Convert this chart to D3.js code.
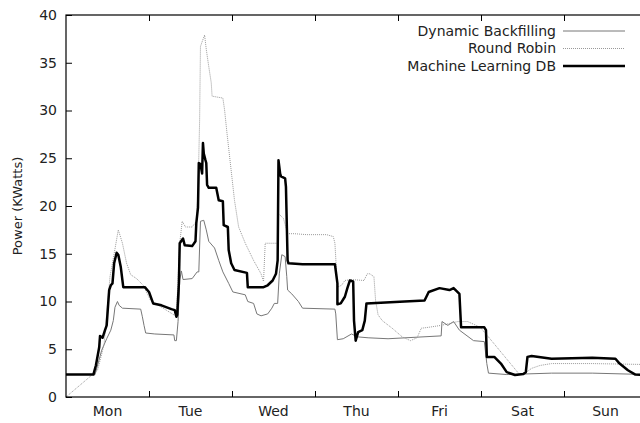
<!DOCTYPE html>
<html>
<head>
<meta charset="utf-8">
<script src="https://cdn.jsdelivr.net/npm/d3@7"></script>
<style>
  body { margin: 0; background: #fff; }
  text { font-family: "DejaVu Sans", sans-serif; fill: #222; }
</style>
</head>
<body>
<div class="myChart"></div>
<script>
var svgWidth = 640;
var svgHeight = 423;

var chartMargin = { top: 15, right: -7, bottom: 26, left: 66 };
var chartWidth = svgWidth - chartMargin.left - chartMargin.right;
var chartHeight = svgHeight - chartMargin.top - chartMargin.bottom;

// x values are days since Monday 00:00, y values in KWatts
var dayLabels = ["Mon", "Tue", "Wed", "Thu", "Fri", "Sat", "Sun"];
var yTicks = [0, 5, 10, 15, 20, 25, 30, 35, 40];

var dbDays = [0, 0.35, 0.43, 0.49, 0.54, 0.57, 0.59, 0.62, 0.64, 0.68, 0.90, 0.92, 0.94, 0.96, 1.07, 1.30, 1.31, 1.33,
  1.35, 1.37, 1.39, 1.41, 1.52, 1.58, 1.60, 1.62, 1.66, 1.69, 1.72, 1.79, 1.84, 1.89, 1.96, 2.01, 2.16, 2.19, 2.26,
  2.30, 2.35, 2.43, 2.48, 2.51, 2.55, 2.57, 2.60, 2.64, 2.66, 2.67, 2.72, 2.80, 2.85, 3.24, 3.25, 3.27, 3.34, 3.44,
  3.51, 3.64, 3.88, 4.52, 4.53, 4.60, 4.67, 4.74, 4.91, 5.04, 5.07, 5.09, 5.31, 5.85, 6.34, 7.0];
var dbPower = [2.35, 2.35, 4.9, 6.1, 7.0, 8.0, 9.4, 10.0, 9.6, 9.3, 9.2, 8.4, 7.5, 6.7, 6.6, 6.5, 5.9, 5.9,
  7.9, 12.2, 13.2, 12.3, 12.4, 13.1, 13.1, 18.4, 18.5, 17.5, 16.3, 15.6, 14.3, 13.1, 11.9, 11.0, 10.7, 10.0, 9.8,
  8.7, 8.5, 8.7, 9.3, 9.8, 9.8, 12.9, 14.9, 14.7, 12.6, 11.2, 10.8, 10.0, 9.3, 9.2, 8.7, 6.0, 6.1, 6.6,
  6.3, 6.2, 6.1, 6.4, 7.9, 7.5, 7.9, 7.0, 5.9, 5.8, 3.5, 2.5, 2.35, 2.5, 2.5, 2.35];

var rrDays = [0, 0.38, 0.43, 0.46, 0.49, 0.53, 0.58, 0.63, 0.68, 0.73, 0.78, 0.85, 0.93, 1.02, 1.17, 1.30, 1.33,
  1.37, 1.40, 1.44, 1.52, 1.57, 1.59, 1.61, 1.62, 1.64, 1.67, 1.69, 1.72, 1.75, 1.76, 1.89, 1.91, 1.94, 2.03, 2.08,
  2.16, 2.26, 2.35, 2.38, 2.40, 2.55, 2.56, 2.62, 2.67, 2.75, 2.90, 3.14, 3.22, 3.24, 3.27, 3.32, 3.36, 3.44, 3.59,
  3.63, 3.66, 3.71, 3.73, 3.76, 3.81, 3.93, 4.05, 4.15, 4.23, 4.28, 4.37, 4.52, 4.62, 4.72, 4.84, 4.99, 5.06, 5.26,
  5.46, 5.53, 5.61, 5.71, 5.85, 6.34, 7.0];
var rrPower = [0, 2.8, 4.5, 5.6, 8.7, 12.6, 15.0, 17.5, 16.1, 14.0, 12.8, 12.4, 11.7, 10.1, 9.3, 8.6, 8.4,
  16.1, 18.4, 17.8, 17.8, 18.4, 21.3, 29.0, 36.7, 37.2, 37.9, 36.4, 34.6, 32.9, 31.5, 31.3, 30.1, 27.6, 20.6, 17.8,
  16.1, 14.3, 12.9, 12.1, 16.1, 16.1, 19.2, 18.7, 17.1, 17.1, 17.0, 17.0, 16.8, 16.1, 11.5, 11.7, 12.2, 12.3, 12.2,
  12.9, 12.9, 12.6, 10.1, 8.6, 8.0, 7.2, 6.3, 5.9, 6.2, 7.2, 7.3, 7.5, 7.7, 7.9, 7.9, 7.3, 6.6, 4.5,
  2.4, 2.5, 3.0, 3.3, 3.5, 3.5, 3.4];

var mlDays = [0, 0.33, 0.36, 0.40, 0.41, 0.44, 0.47, 0.49, 0.52, 0.54, 0.56, 0.58, 0.61, 0.63, 0.66, 0.69, 0.95,
  1.00, 1.05, 1.15, 1.27, 1.31, 1.33, 1.34, 1.36, 1.37, 1.41, 1.43, 1.52, 1.56, 1.57, 1.59, 1.60, 1.62, 1.64, 1.65,
  1.66, 1.68, 1.69, 1.70, 1.72, 1.81, 1.84, 1.89, 1.90, 1.95, 1.96, 1.99, 2.03, 2.18, 2.19, 2.38, 2.43, 2.49, 2.53,
  2.55, 2.56, 2.58, 2.59, 2.64, 2.65, 2.67, 2.68, 2.85, 2.95, 3.24, 3.27, 3.27, 3.31, 3.36, 3.39, 3.42, 3.46, 3.47,
  3.49, 3.52, 3.57, 3.60, 3.62, 4.08, 4.32, 4.37, 4.50, 4.62, 4.67, 4.74, 4.76, 5.04, 5.06, 5.07, 5.16, 5.24, 5.31,
  5.41, 5.51, 5.54, 5.56, 5.61, 5.85, 6.34, 6.62, 6.67, 6.77, 6.86, 7.0];
var mlPower = [2.35, 2.35, 3.3, 5.2, 6.4, 6.2, 7.0, 7.5, 11.2, 11.7, 11.9, 14.0, 15.1, 14.9, 13.6, 11.5, 11.5,
  11.0, 9.8, 9.6, 9.2, 9.1, 8.4, 8.6, 11.9, 16.1, 16.6, 15.9, 15.8, 16.3, 18.2, 19.8, 24.5, 24.4, 23.4, 26.6,
  25.5, 24.8, 24.5, 22.2, 21.9, 21.9, 20.6, 20.5, 18.0, 17.8, 15.4, 14.0, 13.3, 13.0, 11.5, 11.5, 11.7, 12.2, 12.9,
  14.3, 24.8, 23.4, 23.1, 22.9, 22.0, 14.3, 14.0, 13.9, 13.9, 13.9, 11.9, 9.7, 9.8, 10.5, 11.4, 12.2, 12.1, 8.0,
  5.9, 6.8, 7.0, 8.0, 9.8, 10.0, 10.1, 11.0, 11.4, 11.2, 11.4, 10.8, 7.3, 7.3, 7.0, 4.2, 4.2, 3.5, 2.6,
  2.3, 2.4, 2.6, 4.2, 4.3, 4.0, 4.1, 4.0, 3.5, 2.8, 2.35, 2.3];

var series = [
  { name: "Dynamic Backfilling", days: dbDays, power: dbPower },
  { name: "Round Robin", days: rrDays, power: rrPower },
  { name: "Machine Learning DB", days: mlDays, power: mlPower }
];
var seriesStyle = [
  { stroke: "#777", width: 1, dash: null },
  { stroke: "#999", width: 1, dash: "1,1" },
  { stroke: "#000", width: 2.5, dash: null }
];

var svg = d3.select(".myChart")
  .append("svg")
  .attr("width", svgWidth)
  .attr("height", svgHeight)
  .append("g")
  .attr("transform", "translate(" + chartMargin.left + "," + chartMargin.top + ")");

var xLinearScale = d3.scaleLinear().domain([0, 7]).range([0, chartWidth]);
var yLinearScale = d3.scaleLinear().domain([0, 40]).range([chartHeight, 0]);

// day boundary ticks, labels in the middle of each day
var bottomAxis = d3.axisBottom(xLinearScale).tickValues(d3.range(1, 7)).tickSize(-6).tickFormat("");
var topAxis = d3.axisTop(xLinearScale).tickValues(d3.range(1, 7)).tickSize(-6).tickFormat("");
var leftAxis = d3.axisLeft(yLinearScale).tickValues(yTicks).tickSize(-6).tickPadding(9);
var rightAxis = d3.axisRight(yLinearScale).tickValues(yTicks).tickSize(-6).tickFormat("");

function styleAxis(g) {
  g.select(".domain").remove();
  g.selectAll(".tick line").attr("stroke", "#000");
  g.selectAll("text").style("font-family", "DejaVu Sans, sans-serif").style("font-size", "14px").attr("fill", "#222");
}

svg.append("g").attr("transform", `translate(0, ${chartHeight})`).call(bottomAxis).call(styleAxis);
svg.append("g").call(topAxis).call(styleAxis);
svg.append("g").call(leftAxis).call(styleAxis);
svg.append("g").attr("transform", `translate(${chartWidth}, 0)`).call(rightAxis).call(styleAxis);

svg.selectAll(".dayLabel")
  .data(dayLabels)
  .enter().append("text")
  .attr("class", "dayLabel")
  .attr("x", function(d, i) { return xLinearScale(i + 0.5); })
  .attr("y", chartHeight + 19)
  .style("text-anchor", "middle")
  .style("font-size", "14px")
  .text(function(d) { return d; });

var line = d3.line()
  .x(function(d) { return xLinearScale(d[0]); })
  .y(function(d) { return yLinearScale(d[1]); });

series.forEach(function(s, i) {
  var pts = s.days.map(function(d, j) { return [d, s.power[j]]; });
  svg.append("path")
    .datum(pts)
    .attr("fill", "none")
    .attr("stroke", seriesStyle[i].stroke)
    .attr("stroke-width", seriesStyle[i].width)
    .attr("stroke-dasharray", seriesStyle[i].dash)
    .attr("stroke-linejoin", "round")
    .attr("d", line);
});

// border
svg.append("rect")
  .attr("width", chartWidth)
  .attr("height", chartHeight)
  .attr("fill", "none")
  .attr("stroke", "#000")
  .attr("stroke-width", 1.2);

// legend
var legend = svg.selectAll(".legend")
  .data(series)
  .enter().append("g")
  .attr("class", "legend")
  .attr("transform", function(d, i) { return "translate(0," + (16 + i * 17.5) + ")"; });

legend.append("text")
  .attr("x", 490)
  .attr("dy", "0.35em")
  .style("text-anchor", "end")
  .style("font-size", "14px")
  .text(function(d) { return d.name; });

legend.append("line")
  .attr("x1", 497)
  .attr("x2", 559)
  .attr("stroke", function(d, i) { return seriesStyle[i].stroke; })
  .attr("stroke-width", function(d, i) { return seriesStyle[i].width; })
  .attr("stroke-dasharray", function(d, i) { return seriesStyle[i].dash; });

svg.append("text")
  .attr("transform", "rotate(-90)")
  .attr("x", -chartHeight / 2)
  .attr("y", -44)
  .style("text-anchor", "middle")
  .style("font-size", "13px")
  .text("Power (KWatts)");
</script>
</body>
</html>
